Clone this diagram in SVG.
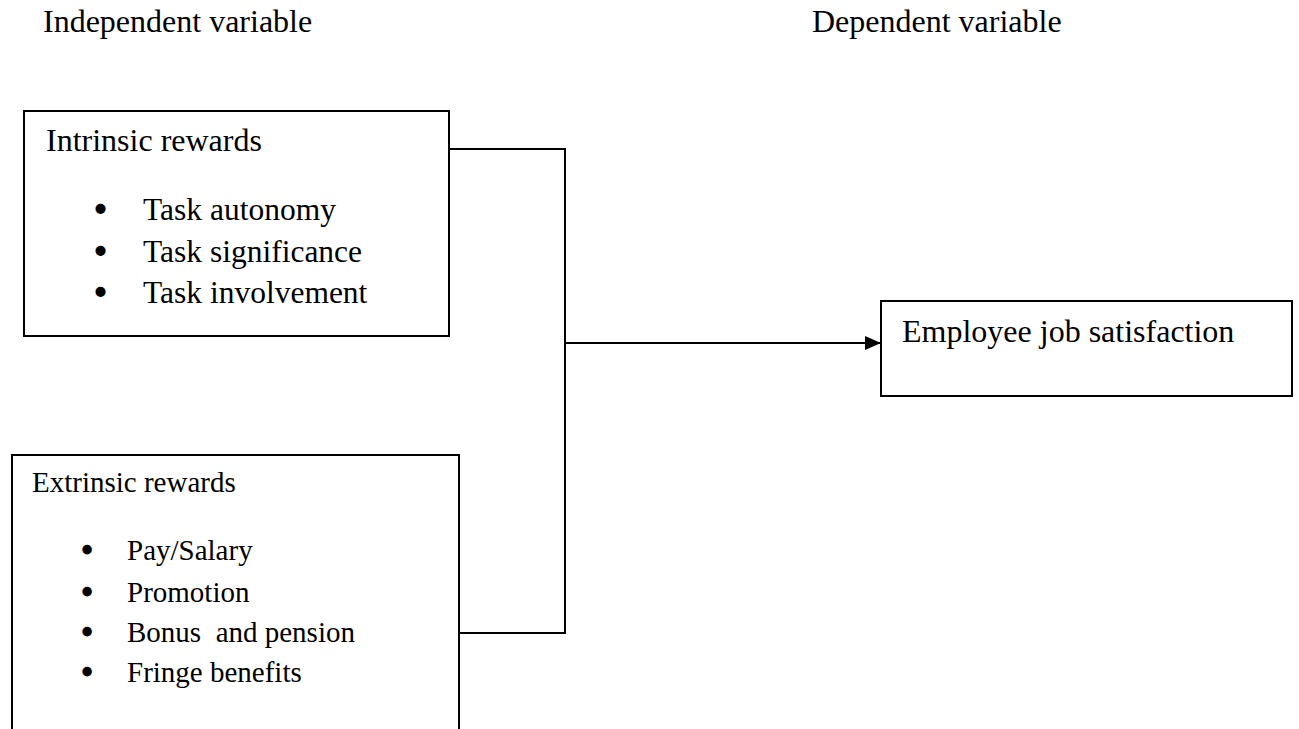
<svg xmlns="http://www.w3.org/2000/svg" width="1299" height="729" viewBox="0 0 1299 729">
<style>
text{font-family:"Liberation Serif","Times New Roman",serif;fill:#000;white-space:pre}
.h{font-size:32px}
.t{font-size:32px}
.i{font-size:31.5px}
.s{font-size:29px}
.b{stroke:#000;stroke-width:2.6}
.box{fill:#fff;stroke:#000;stroke-width:2}
.ln{fill:none;stroke:#000;stroke-width:2}
</style>
<defs>
<marker id="arr" markerWidth="16" markerHeight="14" refX="16" refY="7" orient="auto" markerUnits="userSpaceOnUse">
<path d="M0,0 L16,7 L0,14 Z" fill="#000"/>
</marker>
</defs>
<rect width="1299" height="729" fill="#fff"/>
<g id="headers">
<text class="h" x="43" y="32">Independent variable</text>
<text class="h" x="812" y="32">Dependent variable</text>
</g>
<g id="connectors">
<polyline class="ln" points="449,149 565,149 565,633 459,633"/>
<line class="ln" x1="565" y1="343" x2="881" y2="343" marker-end="url(#arr)"/>
</g>
<g id="intrinsic">
<rect class="box" x="24" y="111" width="425" height="225"/>
<text class="t" x="46" y="151">Intrinsic rewards</text>
<text class="i" y="220"><tspan class="b" x="95">•</tspan><tspan x="143">Task autonomy</tspan></text>
<text class="i" y="262"><tspan class="b" x="95">•</tspan><tspan x="143">Task significance</tspan></text>
<text class="i" y="303"><tspan class="b" x="95">•</tspan><tspan x="143">Task involvement</tspan></text>
</g>
<g id="extrinsic">
<rect class="box" x="12" y="455" width="447" height="290"/>
<text class="s" x="32" y="492">Extrinsic rewards</text>
<text class="s" y="560"><tspan class="b" x="82">•</tspan><tspan x="127">Pay/Salary</tspan></text>
<text class="s" y="602"><tspan class="b" x="82">•</tspan><tspan x="127">Promotion</tspan></text>
<text class="s" y="642"><tspan class="b" x="82">•</tspan><tspan x="127">Bonus  and pension</tspan></text>
<text class="s" y="682"><tspan class="b" x="82">•</tspan><tspan x="127">Fringe benefits</tspan></text>
</g>
<g id="satisfaction">
<rect class="box" x="881" y="301" width="411" height="95"/>
<text class="t" x="902" y="342">Employee job satisfaction</text>
</g>
</svg>
